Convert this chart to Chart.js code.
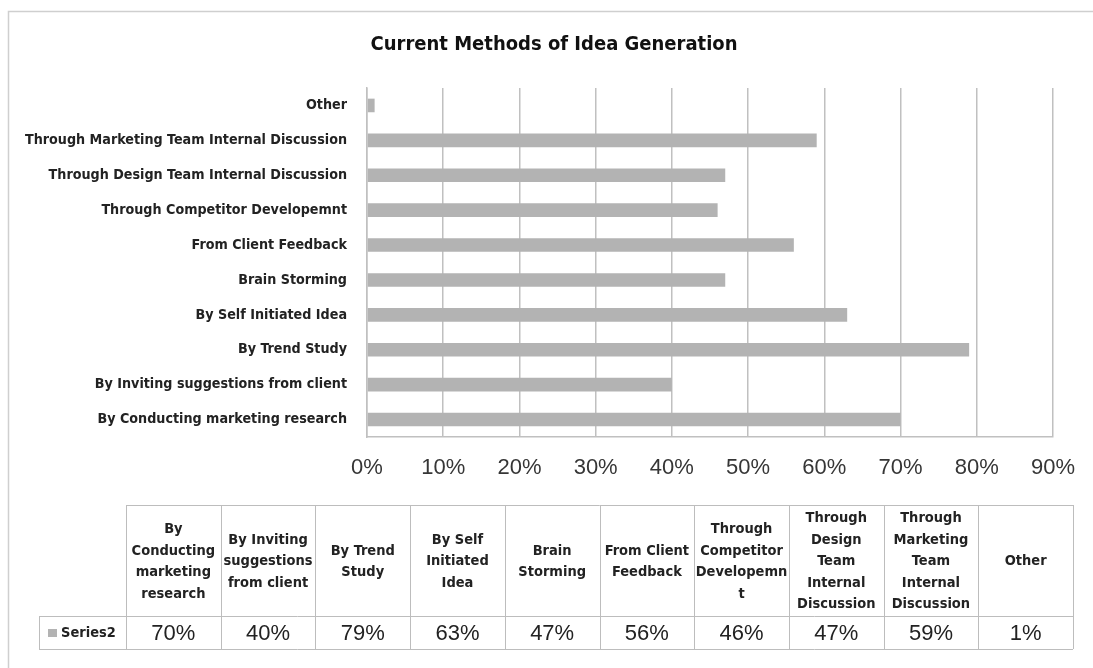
<!DOCTYPE html>
<html>
<head>
<meta charset="utf-8">
<script src="https://cdn.jsdelivr.net/npm/chart.js@4.4.1/dist/chart.umd.min.js"></script>
<style>
  html, body { margin: 0; padding: 0; background: #ffffff; }
  #wrap { width: 1093px; height: 668px; position: relative; }
</style>
</head>
<body>
<div id="wrap"><canvas id="c" width="1093" height="668"></canvas></div>
<script>
// ---- data ----
const chartTitle = 'Current Methods of Idea Generation';
const seriesName = 'Series2';
const categories = [
  'By Conducting marketing research',
  'By Inviting suggestions from client',
  'By Trend Study',
  'By Self Initiated Idea',
  'Brain Storming',
  'From Client Feedback',
  'Through Competitor Developemnt',
  'Through Design Team Internal Discussion',
  'Through Marketing Team Internal Discussion',
  'Other'
];
const values = [70, 40, 79, 63, 47, 56, 46, 47, 59, 1];
const xTickValues = [0, 10, 20, 30, 40, 50, 60, 70, 80, 90];
// wrapped headings for the data table columns
const tableHeaderLines = [
  ['By', 'Conducting', 'marketing', 'research'],
  ['By Inviting', 'suggestions', 'from client'],
  ['By Trend', 'Study'],
  ['By Self', 'Initiated', 'Idea'],
  ['Brain', 'Storming'],
  ['From Client', 'Feedback'],
  ['Through', 'Competitor', 'Developemn', 't'],
  ['Through', 'Design', 'Team', 'Internal', 'Discussion'],
  ['Through', 'Marketing', 'Team', 'Internal', 'Discussion'],
  ['Other']
];

// ---- styling ----
const NARROW = "'DejaVu Sans Condensed', 'Liberation Sans Narrow', sans-serif";
const SANS = "'Liberation Sans', Arial, sans-serif";
const BAR = '#b3b3b3';
const GRID = '#c0c0c0';
const TEXT = '#222222';

// outer frame, title and the data table under the plot
const frameAndTable = {
  id: 'frameAndTable',
  beforeDraw(chart) {
    const ctx = chart.ctx;
    ctx.save();
    ctx.fillStyle = '#ffffff';
    ctx.fillRect(0, 0, chart.width, chart.height);
    ctx.strokeStyle = '#cfcfcf';
    ctx.lineWidth = 1.5;
    ctx.strokeRect(8.5, 11.5, 1300, 1000);
    ctx.restore();
  },
  afterDraw(chart) {
    const ctx = chart.ctx;
    const labels = chart.data.labels;
    const data = chart.data.datasets[0].data;
    const n = labels.length;
    const left = 126, right = 1073, legendLeft = 39;
    const top = 505, mid = 616, bottom = 649;
    const colW = (right - left) / n;

    ctx.save();
    // chart title
    ctx.fillStyle = '#111111';
    ctx.textAlign = 'center';
    ctx.textBaseline = 'middle';
    ctx.font = 'bold 20px ' + NARROW;
    ctx.fillText(chartTitle, 554, 45);

    // table grid
    ctx.strokeStyle = '#bdbdbd';
    ctx.lineWidth = 1;
    ctx.beginPath();
    ctx.moveTo(left, top + 0.5); ctx.lineTo(right, top + 0.5);
    ctx.moveTo(legendLeft, mid + 0.5); ctx.lineTo(right, mid + 0.5);
    ctx.moveTo(legendLeft, bottom + 0.5); ctx.lineTo(right, bottom + 0.5);
    ctx.moveTo(legendLeft + 0.5, mid); ctx.lineTo(legendLeft + 0.5, bottom);
    for (let i = 0; i <= n; i++) {
      const x = Math.round(left + i * colW) + 0.5;
      ctx.moveTo(x, top); ctx.lineTo(x, bottom);
    }
    ctx.stroke();

    // column headings
    ctx.fillStyle = TEXT;
    ctx.font = 'bold 14.5px ' + NARROW;
    const lh = 21.5;
    const headCenter = (top + mid) / 2 + 1;
    for (let i = 0; i < n; i++) {
      const lines = tableHeaderLines[i];
      const cx = left + (i + 0.5) * colW;
      const y0 = headCenter - (lines.length - 1) * lh / 2;
      lines.forEach((t, k) => ctx.fillText(t, cx, y0 + k * lh));
    }

    // values row
    ctx.font = '22px ' + SANS;
    for (let i = 0; i < n; i++) {
      const cx = left + (i + 0.5) * colW;
      ctx.fillText(data[i] + '%', cx, 634);
    }

    // legend key cell
    ctx.fillStyle = BAR;
    ctx.fillRect(48, 629, 9, 8);
    ctx.fillStyle = TEXT;
    ctx.textAlign = 'left';
    ctx.font = 'bold 14.5px ' + NARROW;
    ctx.fillText(chart.data.datasets[0].label, 61, 633);
    ctx.restore();
  }
};

new Chart(document.getElementById('c'), {
  type: 'bar',
  data: {
    labels: categories,
    datasets: [{
      label: seriesName,
      data: values,
      backgroundColor: BAR,
      borderWidth: 0,
      categoryPercentage: 1.0,
      barPercentage: 0.39
    }]
  },
  options: {
    indexAxis: 'y',
    responsive: false,
    animation: false,
    devicePixelRatio: 1,
    layout: { padding: { left: 0, right: 38, top: 88, bottom: 181 } },
    plugins: {
      legend: { display: false },
      tooltip: { enabled: false },
      title: { display: false }
    },
    scales: {
      x: {
        min: 0,
        max: 90,
        afterBuildTicks(scale) {
          scale.ticks = xTickValues.map(v => ({ value: v }));
        },
        afterFit(scale) { scale.height = 50; },
        grid: { color: GRID, lineWidth: 1.5, drawTicks: false },
        border: { display: true, color: GRID, width: 1.5 },
        ticks: {
          padding: 18,
          color: '#363636',
          font: { family: SANS, size: 22 },
          callback: v => v + '%'
        }
      },
      y: {
        reverse: true,
        afterFit(scale) { scale.width = 367; },
        grid: { display: false, drawTicks: false },
        border: { display: true, color: GRID, width: 1.5 },
        ticks: {
          autoSkip: false,
          padding: 20,
          color: TEXT,
          font: { family: NARROW, size: 14.2, weight: 'bold' }
        }
      }
    }
  },
  plugins: [frameAndTable]
});
</script>
</body>
</html>
